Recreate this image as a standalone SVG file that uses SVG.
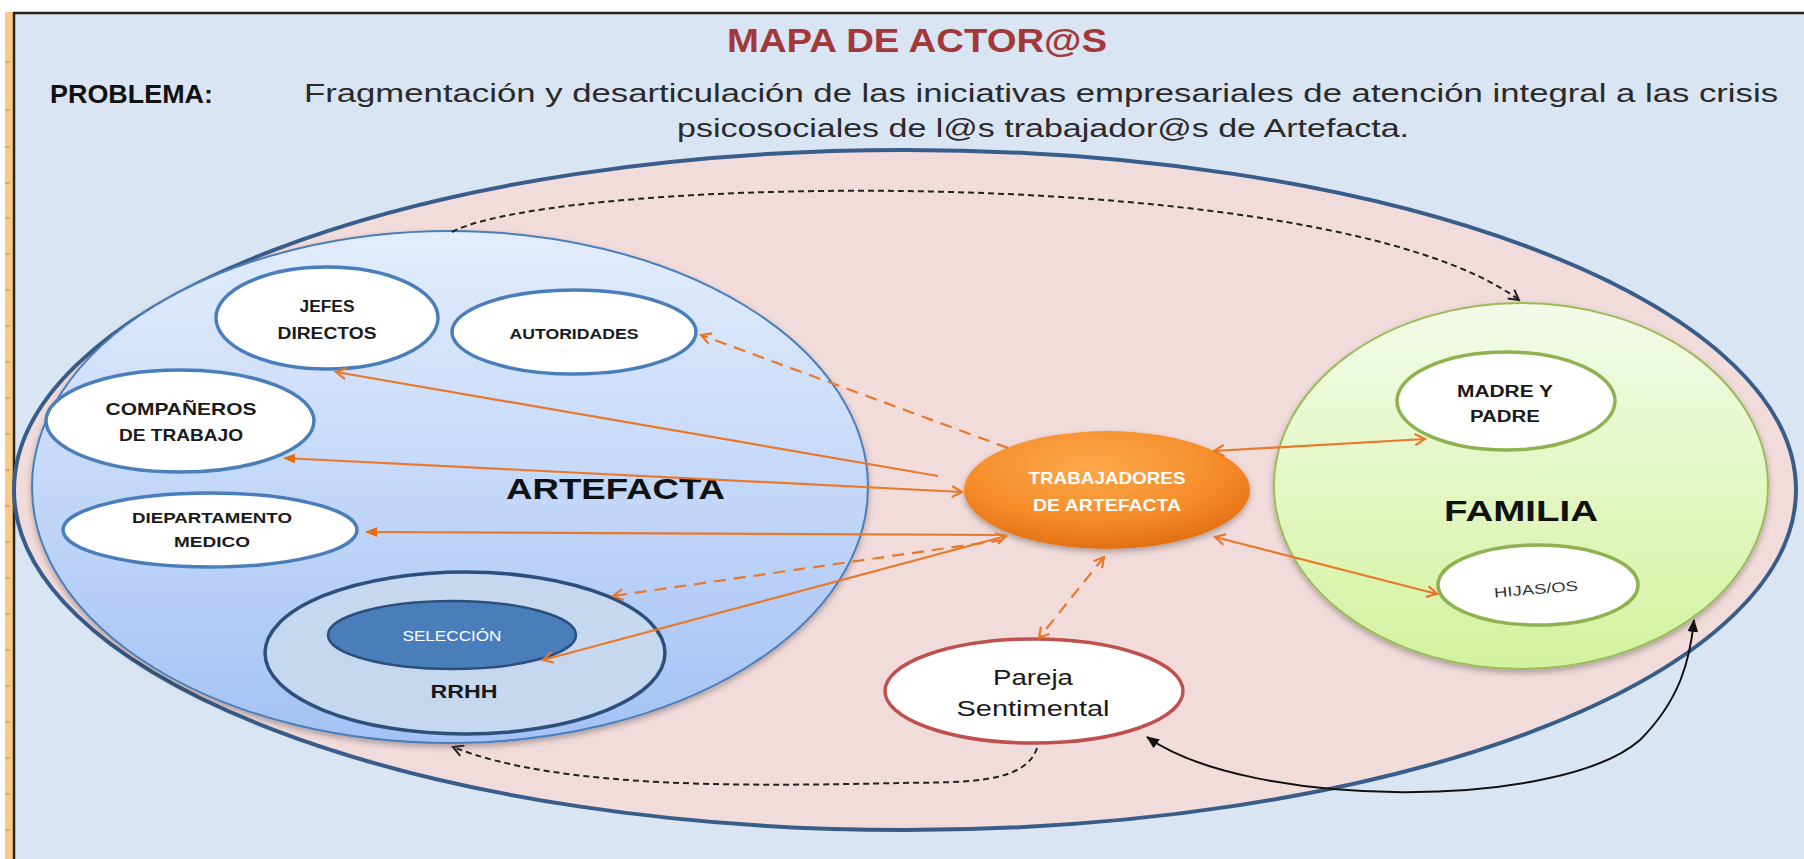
<svg xmlns="http://www.w3.org/2000/svg" width="1804" height="859" viewBox="0 0 1804 859">
  <defs>
    <style>
      .t { font-family: "Liberation Sans", Arial, sans-serif; }
      .b { font-weight: bold; }
      .node-w { fill: #ffffff; stroke: #4a7ebb; stroke-width: 3.5; }
      .node-g { fill: #ffffff; stroke: #8db24f; stroke-width: 3.5; }
      .ol { fill: none; stroke: #e8782a; stroke-width: 2.2; }
      .od { fill: none; stroke: #e8782a; stroke-width: 2.2; stroke-dasharray: 12 8; }
      .bd { fill: none; stroke: #222222; stroke-width: 2; stroke-dasharray: 6 4; }
      .bl { fill: none; stroke: #111111; stroke-width: 2; }
    </style>
    <linearGradient id="gArt" x1="0" y1="0" x2="0" y2="1">
      <stop offset="0" stop-color="#e3edfd"/>
      <stop offset="1" stop-color="#a4c2f5"/>
    </linearGradient>
    <linearGradient id="gFam" x1="0" y1="0" x2="0" y2="1">
      <stop offset="0" stop-color="#f3fbe9"/>
      <stop offset="1" stop-color="#d3f29e"/>
    </linearGradient>
    <radialGradient id="gOr" cx="0.45" cy="0.3" r="0.75">
      <stop offset="0" stop-color="#fca84a"/>
      <stop offset="0.6" stop-color="#f68c2a"/>
      <stop offset="1" stop-color="#de6a10"/>
    </radialGradient>
    <filter id="sh" x="-10%" y="-10%" width="120%" height="125%">
      <feDropShadow dx="0" dy="3" stdDeviation="3" flood-color="#000" flood-opacity="0.3"/>
    </filter>
    <marker id="och" viewBox="0 0 14 14" refX="12" refY="7" markerWidth="14" markerHeight="14" markerUnits="userSpaceOnUse" orient="auto-start-reverse">
      <path d="M2 1.5 L12 7 L2 12.5" fill="none" stroke="#e8782a" stroke-width="2.2"/>
    </marker>
    <marker id="otr" viewBox="0 0 12 12" refX="11" refY="6" markerWidth="12" markerHeight="12" markerUnits="userSpaceOnUse" orient="auto-start-reverse">
      <path d="M0 1 L12 6 L0 11 z" fill="#e46c0a"/>
    </marker>
    <marker id="bch" viewBox="0 0 14 14" refX="12" refY="7" markerWidth="14" markerHeight="14" markerUnits="userSpaceOnUse" orient="auto-start-reverse">
      <path d="M2 1.5 L12 7 L2 12.5" fill="none" stroke="#222" stroke-width="2"/>
    </marker>
    <marker id="btr" viewBox="0 0 12 12" refX="11" refY="6" markerWidth="13" markerHeight="13" markerUnits="userSpaceOnUse" orient="auto-start-reverse">
      <path d="M0 1 L12 6 L0 11 z" fill="#111"/>
    </marker>
  </defs>

  <!-- page frame -->
  <rect x="0" y="0" width="1804" height="859" fill="#ffffff"/>
  <rect x="14" y="13" width="1790" height="846" fill="#d9e5f3"/>
  <rect x="5" y="12" width="9" height="847" fill="#fbca88"/>
  <g stroke="#e59a45" stroke-width="1.5">
    <line x1="5" y1="62" x2="10" y2="62"/><line x1="5" y1="110" x2="10" y2="110"/>
    <line x1="5" y1="147" x2="10" y2="147"/><line x1="5" y1="183" x2="10" y2="183"/>
    <line x1="5" y1="218" x2="10" y2="218"/><line x1="5" y1="254" x2="10" y2="254"/>
    <line x1="5" y1="290" x2="10" y2="290"/><line x1="5" y1="326" x2="10" y2="326"/>
    <line x1="5" y1="362" x2="10" y2="362"/><line x1="5" y1="398" x2="10" y2="398"/>
    <line x1="5" y1="434" x2="10" y2="434"/><line x1="5" y1="470" x2="10" y2="470"/>
    <line x1="5" y1="506" x2="10" y2="506"/><line x1="5" y1="542" x2="10" y2="542"/>
    <line x1="5" y1="578" x2="10" y2="578"/><line x1="5" y1="614" x2="10" y2="614"/>
    <line x1="5" y1="650" x2="10" y2="650"/><line x1="5" y1="686" x2="10" y2="686"/>
    <line x1="5" y1="722" x2="10" y2="722"/><line x1="5" y1="758" x2="10" y2="758"/>
    <line x1="5" y1="794" x2="10" y2="794"/><line x1="5" y1="830" x2="10" y2="830"/>
  </g>
  <line x1="14" y1="12" x2="14" y2="859" stroke="#2b2119" stroke-width="2.5"/>
  <line x1="13" y1="13" x2="1804" y2="13" stroke="#2b2119" stroke-width="2.5"/>

  <!-- header texts -->
  <text class="t b" x="727" y="52" font-size="33" fill="#a3383b" textLength="380" lengthAdjust="spacingAndGlyphs">MAPA DE ACTOR@S</text>
  <text class="t b" x="50" y="103" font-size="25" fill="#111" textLength="163" lengthAdjust="spacingAndGlyphs">PROBLEMA:</text>
  <text class="t" x="304" y="102" font-size="25" fill="#2a2a2a" textLength="1474" lengthAdjust="spacingAndGlyphs">Fragmentación y desarticulación de las iniciativas empresariales de atención integral a las crisis</text>
  <text class="t" x="677" y="137" font-size="25" fill="#2a2a2a" textLength="732" lengthAdjust="spacingAndGlyphs">psicosociales de l@s trabajador@s de Artefacta.</text>

  <!-- outer scope -->
  <g id="entorno">
    <ellipse cx="905" cy="490" rx="891" ry="340" fill="#f2dcdb" stroke="#385d8a" stroke-width="4"/>
  </g>

  <!-- ARTEFACTA -->
  <g id="artefacta">
    <ellipse cx="450" cy="487" rx="418" ry="256" fill="url(#gArt)" stroke="#4a7ebb" stroke-width="2" filter="url(#sh)"/>
    <text class="t b" x="506" y="499" font-size="30" fill="#111" textLength="219" lengthAdjust="spacingAndGlyphs">ARTEFACTA</text>
  </g>

  <g id="jefes">
    <ellipse class="node-w" cx="327" cy="318" rx="111" ry="51"/>
    <text class="t b" x="327" y="312" font-size="16" fill="#1a1a1a" text-anchor="middle" textLength="55" lengthAdjust="spacingAndGlyphs">JEFES</text>
    <text class="t b" x="327" y="339" font-size="16" fill="#1a1a1a" text-anchor="middle" textLength="99" lengthAdjust="spacingAndGlyphs">DIRECTOS</text>
  </g>

  <g id="autoridades">
    <ellipse class="node-w" cx="574" cy="332" rx="122" ry="42"/>
    <text class="t b" x="574" y="339" font-size="14" fill="#1a1a1a" text-anchor="middle" textLength="129" lengthAdjust="spacingAndGlyphs">AUTORIDADES</text>
  </g>

  <g id="companeros">
    <ellipse class="node-w" cx="180" cy="421" rx="134" ry="51"/>
    <text class="t b" x="181" y="415" font-size="17" fill="#1a1a1a" text-anchor="middle" textLength="151" lengthAdjust="spacingAndGlyphs">COMPAÑEROS</text>
    <text class="t b" x="181" y="441" font-size="17" fill="#1a1a1a" text-anchor="middle" textLength="124" lengthAdjust="spacingAndGlyphs">DE TRABAJO</text>
  </g>

  <g id="departamento">
    <ellipse class="node-w" cx="210" cy="530" rx="147" ry="37"/>
    <text class="t b" x="212" y="523" font-size="15" fill="#1a1a1a" text-anchor="middle" textLength="160" lengthAdjust="spacingAndGlyphs">DIEPARTAMENTO</text>
    <text class="t b" x="212" y="547" font-size="15" fill="#1a1a1a" text-anchor="middle" textLength="76" lengthAdjust="spacingAndGlyphs">MEDICO</text>
  </g>

  <g id="rrhh">
    <ellipse cx="465" cy="653" rx="200" ry="81" fill="#c5d8ef" stroke="#2c4f7c" stroke-width="3.5"/>
    <text class="t b" x="464" y="698" font-size="19" fill="#1a1a1a" text-anchor="middle" textLength="67" lengthAdjust="spacingAndGlyphs">RRHH</text>
  </g>

  <g id="seleccion">
    <ellipse cx="452" cy="635" rx="124" ry="34" fill="#4a7ebb" stroke="#2c4f7c" stroke-width="2.5"/>
    <text class="t" x="452" y="641" font-size="15" fill="#ffffff" text-anchor="middle" textLength="99" lengthAdjust="spacingAndGlyphs">SELECCIÓN</text>
  </g>

  <!-- FAMILIA -->
  <g id="familia">
    <ellipse cx="1521" cy="486" rx="247" ry="183" fill="url(#gFam)" stroke="#9bbb59" stroke-width="2" filter="url(#sh)"/>
    <text class="t b" x="1521" y="521" font-size="30" fill="#111" text-anchor="middle" textLength="154" lengthAdjust="spacingAndGlyphs">FAMILIA</text>
  </g>

  <g id="madre-padre">
    <ellipse class="node-g" cx="1506" cy="401" rx="109" ry="49"/>
    <text class="t b" x="1505" y="397" font-size="16" fill="#1a1a1a" text-anchor="middle" textLength="96" lengthAdjust="spacingAndGlyphs">MADRE Y</text>
    <text class="t b" x="1505" y="422" font-size="16" fill="#1a1a1a" text-anchor="middle" textLength="70" lengthAdjust="spacingAndGlyphs">PADRE</text>
  </g>

  <g id="hijas">
    <ellipse class="node-g" cx="1538" cy="585" rx="100" ry="40"/>
    <text class="t" x="1536" y="594" font-size="14" fill="#333" text-anchor="middle" textLength="84" lengthAdjust="spacingAndGlyphs" transform="rotate(-5 1536 589)">HIJAS/OS</text>
  </g>

  <!-- TRABAJADORES -->
  <g id="trabajadores">
    <ellipse cx="1107" cy="490" rx="143" ry="59" fill="url(#gOr)" filter="url(#sh)"/>
    <text class="t" x="1107" y="484" font-size="17" font-weight="600" fill="#ffffff" text-anchor="middle" textLength="157" lengthAdjust="spacingAndGlyphs">TRABAJADORES</text>
    <text class="t" x="1107" y="511" font-size="17" font-weight="600" fill="#ffffff" text-anchor="middle" textLength="148" lengthAdjust="spacingAndGlyphs">DE ARTEFACTA</text>
  </g>

  <!-- Pareja -->
  <g id="pareja">
    <ellipse cx="1034" cy="691" rx="149" ry="52" fill="#ffffff" stroke="#c0504d" stroke-width="3.5"/>
    <text class="t" x="1033" y="685" font-size="22" fill="#1a1a1a" text-anchor="middle" textLength="80" lengthAdjust="spacingAndGlyphs">Pareja</text>
    <text class="t" x="1033" y="716" font-size="22" fill="#1a1a1a" text-anchor="middle" textLength="153" lengthAdjust="spacingAndGlyphs">Sentimental</text>
  </g>

  <!-- connectors -->
  <g id="connectors">
    <path class="ol" d="M938 476 L336 372" marker-end="url(#och)"/>
    <path class="ol" d="M284 458 L962 492" marker-start="url(#otr)" marker-end="url(#och)"/>
    <path class="ol" d="M1006 535 L366 532" marker-end="url(#otr)"/>
    <path class="od" d="M1008 448 L701 335" marker-end="url(#och)"/>
    <path class="od" d="M1003 540 L613 596" marker-end="url(#och)"/>
    <path class="ol" d="M1006 536 L543 660" marker-start="url(#och)" marker-end="url(#och)"/>
    <path class="ol" d="M1214 451 L1425 439" marker-start="url(#och)" marker-end="url(#och)"/>
    <path class="ol" d="M1215 537 L1437 594" marker-start="url(#och)" marker-end="url(#och)"/>
    <path class="od" d="M1104 557 L1039 638" marker-start="url(#och)" marker-end="url(#och)"/>
    <path class="bd" d="M452 232 C560 175, 1330 160, 1519 300" marker-end="url(#bch)"/>
    <path class="bd" d="M1037 748 C1025 785, 960 782, 900 783 C760 786, 560 790, 453 747" marker-end="url(#bch)"/>
    <path class="bl" d="M1147 737 C1250 810, 1560 810, 1640 740 C1680 700, 1690 660, 1694 620" marker-start="url(#btr)" marker-end="url(#btr)"/>
  </g>
</svg>
